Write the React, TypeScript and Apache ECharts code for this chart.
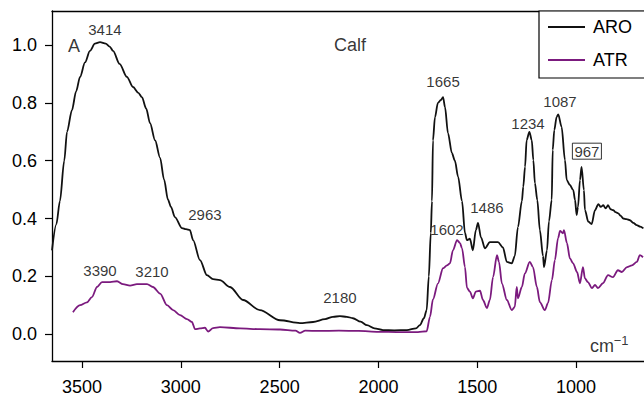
import React, { useEffect, useRef } from "react";
import * as echarts from "echarts";

// ARO (black) spectrum: wavenumber (cm-1) and absorbance
const aroWn = [3652, 3630, 3612, 3590, 3576, 3551, 3530, 3510, 3485, 3460, 3435, 3409, 3380, 3360, 3343, 3310, 3273, 3242, 3215, 3197, 3175, 3156, 3130, 3105, 3085, 3065, 3050, 3030, 2994, 2974, 2954, 2938, 2903, 2868, 2837, 2802, 2751, 2685, 2600, 2498, 2397, 2331, 2270, 2230, 2195, 2160, 2129, 2090, 2058, 2020, 1977, 1920, 1856, 1810, 1790, 1770, 1756, 1745, 1735, 1729, 1724, 1714, 1699, 1684, 1673, 1663, 1648, 1628, 1613, 1597, 1577, 1562, 1552, 1537, 1522, 1507, 1496, 1481, 1461, 1436, 1395, 1370, 1350, 1325, 1310, 1294, 1274, 1267, 1258, 1250, 1236, 1224, 1216, 1208, 1196, 1183, 1167, 1162, 1147, 1137, 1123, 1118, 1110, 1098, 1090, 1073, 1056, 1047, 1031, 1014, 1005, 997, 990, 980, 972, 960, 955, 938, 921, 904, 887, 875, 862, 850, 838, 825, 812, 800, 786, 775, 761, 745, 727, 710, 693, 675, 659];
const aroVal = [0.29, 0.38, 0.46, 0.6, 0.7, 0.775, 0.84, 0.89, 0.94, 0.98, 1.005, 1.01, 1.005, 0.995, 0.98, 0.935, 0.89, 0.855, 0.835, 0.82, 0.78, 0.73, 0.67, 0.61, 0.535, 0.465, 0.44, 0.405, 0.367, 0.363, 0.36, 0.325, 0.256, 0.204, 0.19, 0.187, 0.163, 0.118, 0.083, 0.048, 0.038, 0.042, 0.052, 0.06, 0.062, 0.06, 0.055, 0.043, 0.031, 0.02, 0.014, 0.013, 0.014, 0.02, 0.031, 0.055, 0.083, 0.2, 0.35, 0.46, 0.67, 0.75, 0.8, 0.81, 0.82, 0.785, 0.695, 0.626, 0.6, 0.545, 0.46, 0.35, 0.325, 0.33, 0.29, 0.36, 0.385, 0.335, 0.297, 0.318, 0.318, 0.3, 0.25, 0.245, 0.27, 0.37, 0.46, 0.51, 0.579, 0.671, 0.7, 0.671, 0.602, 0.522, 0.464, 0.36, 0.27, 0.232, 0.29, 0.39, 0.464, 0.637, 0.706, 0.752, 0.76, 0.717, 0.602, 0.533, 0.516, 0.498, 0.464, 0.412, 0.44, 0.533, 0.579, 0.498, 0.43, 0.389, 0.381, 0.429, 0.45, 0.44, 0.446, 0.435, 0.446, 0.432, 0.429, 0.422, 0.418, 0.41, 0.4, 0.398, 0.394, 0.385, 0.377, 0.372, 0.366];

// ATR (purple) spectrum
const atrWn = [3546, 3510, 3475, 3450, 3424, 3399, 3358, 3323, 3293, 3257, 3222, 3171, 3141, 3105, 3070, 3039, 3004, 2969, 2944, 2928, 2903, 2878, 2862, 2837, 2802, 2700, 2600, 2498, 2420, 2397, 2370, 2300, 2200, 2100, 2000, 1900, 1800, 1756, 1739, 1724, 1699, 1673, 1653, 1638, 1623, 1602, 1587, 1577, 1562, 1552, 1537, 1522, 1507, 1486, 1471, 1451, 1436, 1420, 1400, 1390, 1375, 1350, 1325, 1310, 1300, 1294, 1274, 1259, 1234, 1218, 1198, 1183, 1158, 1142, 1122, 1107, 1091, 1081, 1066, 1061, 1046, 1031, 1015, 995, 980, 965, 955, 940, 919, 904, 889, 864, 838, 813, 788, 768, 742, 717, 692, 677, 661];
const atrVal = [0.076, 0.1, 0.11, 0.128, 0.163, 0.18, 0.18, 0.183, 0.173, 0.168, 0.173, 0.173, 0.163, 0.14, 0.1, 0.083, 0.066, 0.052, 0.042, 0.017, 0.02, 0.022, 0.009, 0.021, 0.024, 0.02, 0.017, 0.016, 0.012, 0.004, 0.012, 0.011, 0.012, 0.011, 0.008, 0.007, 0.007, 0.01, 0.06, 0.12, 0.175, 0.228, 0.238, 0.245, 0.29, 0.325, 0.315, 0.297, 0.232, 0.16, 0.147, 0.124, 0.147, 0.15, 0.118, 0.09, 0.118, 0.197, 0.273, 0.25, 0.175, 0.118, 0.083, 0.094, 0.163, 0.124, 0.163, 0.21, 0.25, 0.232, 0.163, 0.111, 0.083, 0.107, 0.187, 0.256, 0.332, 0.357, 0.349, 0.36, 0.315, 0.262, 0.245, 0.215, 0.176, 0.232, 0.193, 0.18, 0.159, 0.17, 0.159, 0.176, 0.204, 0.197, 0.221, 0.215, 0.232, 0.238, 0.25, 0.273, 0.266];

// Axis ticks
const xTicks = [1000, 1500, 2000, 2500, 3000, 3500];
const yTicks = [0, 0.2, 0.4, 0.6, 0.8, 1.0];

// Annotations (text, wavenumber, absorbance, font size)
const annoText = ["A", "3414", "Calf", "2963", "3390", "3210", "2180", "1665", "1602", "1486", "1234", "1087", "967", "cm", "\u22121"];
const annoWn = [3541, 3384, 2144, 2878, 3409, 3146, 2195, 1673, 1653, 1451, 1243, 1081, 945, 869, 772];
const annoVal = [0.997, 1.055, 1.0, 0.415, 0.221, 0.218, 0.128, 0.875, 0.363, 0.439, 0.73, 0.806, 0.633, -0.042, -0.021];
const annoSize = [18, 15, 18, 15, 15, 15, 15, 15, 15, 15, 15, 15, 15, 18, 13];
const boxedLabel = "967";

const FONT = "'Liberation Sans', Arial, Helvetica, sans-serif";
const X_MIN = 656;
const X_MAX = 3652;

export default function App() {
  const ref = useRef<HTMLDivElement>(null);
  useEffect(() => {
    if (!ref.current) return;
    const chart = echarts.init(ref.current, undefined, { renderer: "svg" });
    const aro = aroWn.map((w, i) => [w, aroVal[i]]);
    const atr = atrWn.map((w, i) => [w, atrVal[i]]);
    const annos = annoText.map((t, i) => ({
      value: [annoWn[i], annoVal[i]],
      name: t,
      label: {
        fontSize: annoSize[i],
        color: "#000",
        ...(t === boxedLabel
          ? { borderColor: "#000", borderWidth: 1, padding: [1, 2, 0, 2] }
          : {}),
      },
    }));
    chart.setOption({
      animation: false,
      textStyle: { fontFamily: FONT },
      grid: { left: 52, right: 0, top: 11, bottom: 36 },
      legend: {
        orient: "vertical",
        left: 539,
        top: 11,
        padding: [6, 40, 8, 9],
        itemWidth: 37,
        itemHeight: 2,
        itemGap: 13,
        icon: "rect",
        borderColor: "#000",
        borderWidth: 1.2,
        backgroundColor: "#fff",
        textStyle: { fontSize: 18, lineHeight: 20, color: "#000", padding: [0, 0, 0, 3], fontFamily: FONT },
        data: ["ARO", "ATR"],
      },
      xAxis: [
        {
          type: "value",
          inverse: true,
          min: X_MIN,
          max: X_MAX,
          splitLine: { show: false },
          axisLine: { show: true, onZero: false, lineStyle: { color: "#000", width: 1.3 } },
          axisTick: { show: true, length: 7, customValues: xTicks, lineStyle: { color: "#000", width: 1.2 } },
          axisLabel: {
            customValues: xTicks,
            fontSize: 18,
            color: "#000",
            margin: 17,
            fontFamily: FONT,
            formatter: (v: number) => String(v),
          },
        },
        {
          type: "value",
          position: "top",
          inverse: true,
          min: X_MIN,
          max: X_MAX,
          splitLine: { show: false },
          axisLine: { show: true, onZero: false, lineStyle: { color: "#000", width: 1.3 } },
          axisTick: { show: false },
          axisLabel: { show: false },
        },
      ],
      yAxis: {
        type: "value",
        min: -0.093,
        max: 1.118,
        splitLine: { show: false },
        axisLine: { show: true, onZero: false, lineStyle: { color: "#000", width: 1.3 } },
        axisTick: { show: true, length: 7, customValues: yTicks, lineStyle: { color: "#000", width: 1.2 } },
        axisLabel: {
          customValues: yTicks,
          fontSize: 18,
          color: "#000",
          margin: 15,
          fontFamily: FONT,
          formatter: (v: number) => v.toFixed(1),
        },
      },
      series: [
        {
          name: "ATR",
          type: "line",
          data: atr,
          showSymbol: false,
          smooth: 0.3,
          smoothMonotone: "x",
          color: "#7b1a7e",
          lineStyle: { color: "#7b1a7e", width: 1.8 },
        },
        {
          name: "ARO",
          type: "line",
          data: aro,
          showSymbol: false,
          smooth: 0.3,
          smoothMonotone: "x",
          color: "#111",
          lineStyle: { color: "#111", width: 1.8 },
        },
        {
          name: "annotations",
          type: "scatter",
          data: annos,
          symbolSize: 0,
          silent: true,
          label: {
            show: true,
            position: "inside",
            formatter: (p: any) => p.name,
            color: "#000",
            fontFamily: FONT,
            align: "center",
            verticalAlign: "middle",
          },
        },
      ],
    });
    return () => chart.dispose();
  }, []);
  return (
    <div
      ref={ref}
      style={{ position: "fixed", left: 0, top: 0, width: 644, height: 397, background: "#fff" }}
    />
  );
}
